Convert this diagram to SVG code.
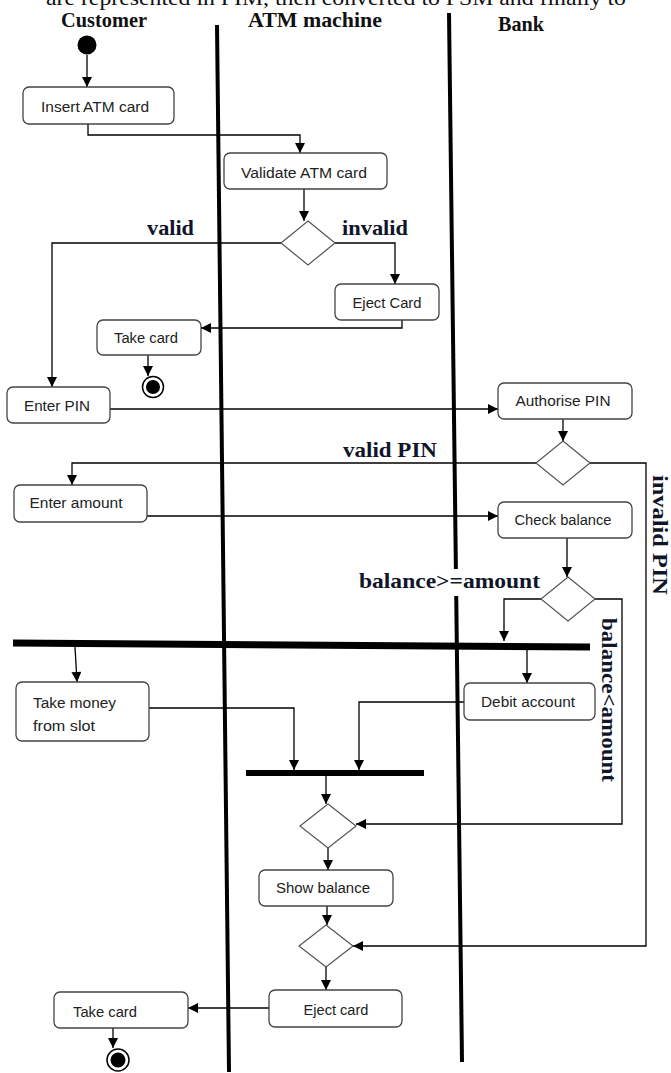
<svg xmlns="http://www.w3.org/2000/svg" width="671" height="1073" viewBox="0 0 671 1073">
  <style>
    .box { fill: #fff; stroke: #444; stroke-width: 1.3; }
    .dia { fill: #fff; stroke: #555; stroke-width: 1.2; }
    .lbl { font-family: "Liberation Sans", Arial, sans-serif; font-size: 14px; fill: #222; text-anchor: middle; }
    .lbl-l { font-family: "Liberation Sans", Arial, sans-serif; font-size: 14px; fill: #222; }
    .lane { stroke: #000; stroke-width: 4; }
    .head { font-family: "Liberation Serif", "Times New Roman", serif; font-weight: bold; font-size: 21px; fill: #111; text-anchor: middle; }
    .guard { font-family: "Liberation Serif", "Times New Roman", serif; font-weight: bold; font-size: 22px; fill: #10152a; }
    .edge { fill: none; stroke: #000; stroke-width: 1.3; marker-end: url(#arr); }
    .bar { stroke: #000; stroke-linecap: butt; }
  </style>
  <defs>
    <marker id="arr" viewBox="0 0 10 10" refX="10" refY="5" markerWidth="11" markerHeight="10" markerUnits="userSpaceOnUse" orient="auto">
      <path d="M0,0 L10,5 L0,10 z" fill="#000"/>
    </marker>
  </defs>
  <rect width="671" height="1073" fill="#fff"/>

  <!-- running text from the page above the figure -->
  <text x="46" y="5" font-family="Liberation Serif, Times New Roman, serif" font-size="21" fill="#111" textLength="580" lengthAdjust="spacingAndGlyphs">are represented in PIM, then converted to PSM and finally to</text>

  <!-- swimlanes -->
  <g id="lanes">
    <line class="lane" x1="217" y1="25" x2="229" y2="1072"/>
    <line class="lane" x1="449" y1="13" x2="462" y2="1062"/>
    <text class="head" x="104" y="27" textLength="86" lengthAdjust="spacingAndGlyphs">Customer</text>
    <text class="head" x="315" y="27" textLength="134" lengthAdjust="spacingAndGlyphs">ATM machine</text>
    <text class="head" x="521" y="31" textLength="46" lengthAdjust="spacingAndGlyphs">Bank</text>
  </g>

  <!-- connectors -->
  <g id="connectors">
    <path class="edge" d="M87,55 V87"/>
    <path class="edge" d="M88,124 V135 H300 V153"/>
    <path class="edge" d="M304,189 V221"/>
    <path class="edge" d="M281,243 H52 V387"/>
    <path class="edge" d="M335,243 H395 V284"/>
    <path class="edge" d="M402,320 V328 H201"/>
    <path class="edge" d="M148,355 V376"/>
    <path class="edge" d="M110,409 H498"/>
    <path class="edge" d="M563,419 V441"/>
    <path class="edge" d="M536,463 H72 V485"/>
    <path class="edge" d="M590,463 H646 V946 H353"/>
    <path class="edge" d="M147,516 H498"/>
    <path class="edge" d="M567,538 V577"/>
    <path class="edge" d="M541,599 H504 V641"/>
    <path class="edge" d="M595,599 H622 V824 H356"/>
    <path class="edge" d="M75,647 L77,682"/>
    <path class="edge" d="M527,648 V683"/>
    <path class="edge" d="M149,708 H294 V770"/>
    <path class="edge" d="M464,702 H359 V770"/>
    <path class="edge" d="M326,776 V804"/>
    <path class="edge" d="M328,848 V870"/>
    <path class="edge" d="M327,906 V925"/>
    <path class="edge" d="M326,967 V990"/>
    <path class="edge" d="M269,1008 H188"/>
    <path class="edge" d="M113,1028 V1048"/>
  </g>

  <!-- guard labels -->
  <g id="guards">
    <text class="guard" x="147" y="235" textLength="47" lengthAdjust="spacingAndGlyphs">valid</text>
    <text class="guard" x="342" y="235" textLength="66" lengthAdjust="spacingAndGlyphs">invalid</text>
    <text class="guard" x="343" y="457" textLength="94" lengthAdjust="spacingAndGlyphs">valid PIN</text>
    <rect x="357" y="569" width="185" height="27" fill="#fff"/>
    <text class="guard" x="359" y="588" textLength="181" lengthAdjust="spacingAndGlyphs">balance&gt;=amount</text>
    <text class="guard" transform="translate(653,535) rotate(90)" text-anchor="middle" textLength="120" lengthAdjust="spacingAndGlyphs">invalid PIN</text>
    <text class="guard" transform="translate(602,700) rotate(90)" text-anchor="middle" textLength="164" lengthAdjust="spacingAndGlyphs">balance&lt;amount</text>
  </g>

  <!-- start and end points -->
  <g id="start"><circle cx="87" cy="45" r="9.5" fill="#000"/></g>
  <g id="end1"><circle cx="153" cy="387" r="10.5" fill="#fff" stroke="#000" stroke-width="1.5"/><circle cx="153" cy="387" r="7" fill="#000"/></g>
  <g id="end2"><circle cx="118" cy="1060" r="11" fill="#fff" stroke="#000" stroke-width="1.5"/><circle cx="118" cy="1060" r="7.5" fill="#000"/></g>

  <!-- fork / join bars -->
  <g id="fork"><line class="bar" x1="13" y1="643" x2="590" y2="647" stroke-width="7"/></g>
  <g id="join"><line class="bar" x1="246" y1="773" x2="424" y2="773" stroke-width="6"/></g>

  <!-- decisions -->
  <g id="decision-card"><path class="dia" d="M308,221 L335,243 L308,265 L281,243 Z"/></g>
  <g id="decision-pin"><path class="dia" d="M563,441 L590,463 L563,485 L536,463 Z"/></g>
  <g id="decision-balance"><path class="dia" d="M568,577 L595,599 L568,621 L541,599 Z"/></g>
  <g id="merge-balance"><path class="dia" d="M328,804 L356,826 L328,848 L300,826 Z"/></g>
  <g id="merge-end"><path class="dia" d="M326,925 L353,946 L326,967 L299,946 Z"/></g>

  <!-- actions -->
  <g id="insert-card"><rect class="box" x="23" y="87" width="151" height="37" rx="6"/><text class="lbl" x="95" y="112" textLength="108" lengthAdjust="spacingAndGlyphs">Insert ATM card</text></g>
  <g id="validate-card"><rect class="box" x="224" y="153" width="163" height="36" rx="6"/><text class="lbl" x="304" y="178" textLength="126" lengthAdjust="spacingAndGlyphs">Validate ATM card</text></g>
  <g id="eject-card-1"><rect class="box" x="335" y="284" width="104" height="36" rx="6"/><text class="lbl" x="387" y="308" textLength="69" lengthAdjust="spacingAndGlyphs">Eject Card</text></g>
  <g id="take-card-1"><rect class="box" x="97" y="320" width="104" height="35" rx="6"/><text class="lbl" x="146" y="343" textLength="64" lengthAdjust="spacingAndGlyphs">Take card</text></g>
  <g id="enter-pin"><rect class="box" x="7" y="387" width="103" height="36" rx="6"/><text class="lbl" x="57" y="411" textLength="66" lengthAdjust="spacingAndGlyphs">Enter PIN</text></g>
  <g id="authorise-pin"><rect class="box" x="498" y="383" width="134" height="36" rx="6"/><text class="lbl" x="563" y="406" textLength="95" lengthAdjust="spacingAndGlyphs">Authorise PIN</text></g>
  <g id="enter-amount"><rect class="box" x="14" y="485" width="133" height="37" rx="6"/><text class="lbl" x="76" y="508" textLength="93" lengthAdjust="spacingAndGlyphs">Enter amount</text></g>
  <g id="check-balance"><rect class="box" x="498" y="502" width="134" height="36" rx="6"/><text class="lbl" x="563" y="525" textLength="97" lengthAdjust="spacingAndGlyphs">Check balance</text></g>
  <g id="take-money"><rect class="box" x="16" y="682" width="133" height="59" rx="6"/><text class="lbl-l" x="33" y="708" textLength="83" lengthAdjust="spacingAndGlyphs">Take money</text><text class="lbl-l" x="33" y="731" textLength="62" lengthAdjust="spacingAndGlyphs">from slot</text></g>
  <g id="debit-account"><rect class="box" x="464" y="683" width="131" height="37" rx="6"/><text class="lbl" x="528" y="707" textLength="94" lengthAdjust="spacingAndGlyphs">Debit account</text></g>
  <g id="show-balance"><rect class="box" x="259" y="870" width="134" height="36" rx="6"/><text class="lbl" x="323" y="893" textLength="94" lengthAdjust="spacingAndGlyphs">Show balance</text></g>
  <g id="eject-card-2"><rect class="box" x="269" y="990" width="133" height="37" rx="6"/><text class="lbl" x="336" y="1015" textLength="65" lengthAdjust="spacingAndGlyphs">Eject card</text></g>
  <g id="take-card-2"><rect class="box" x="54" y="992" width="134" height="36" rx="6"/><text class="lbl" x="105" y="1017" textLength="64" lengthAdjust="spacingAndGlyphs">Take card</text></g>
</svg>
